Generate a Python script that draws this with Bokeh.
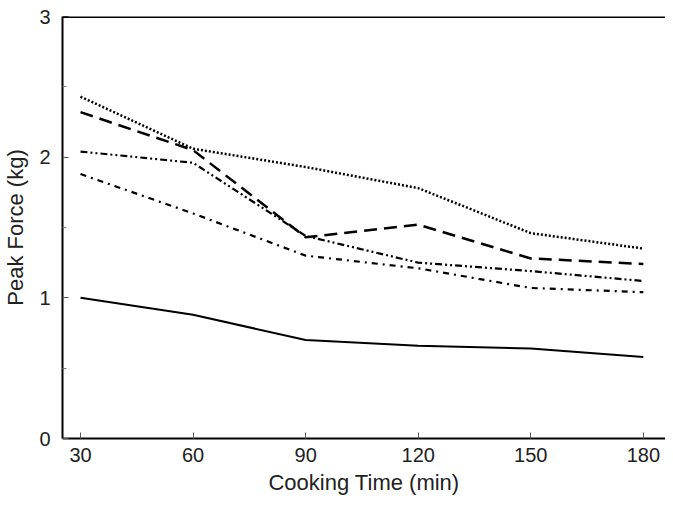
from bokeh.plotting import figure
from bokeh.embed import file_html
from bokeh.resources import INLINE
from bokeh.models import FixedTicker, Range1d, Span

times = [30, 60, 90, 120, 150, 180]
solid = [1.00, 0.88, 0.70, 0.66, 0.64, 0.58]
dotted = [2.43, 2.06, 1.93, 1.78, 1.46, 1.35]
dashed = [2.32, 2.05, 1.43, 1.52, 1.28, 1.24]
dashdotdot = [2.04, 1.96, 1.44, 1.25, 1.19, 1.12]
dashdot = [1.88, 1.60, 1.30, 1.21, 1.07, 1.04]

x_ticks = [30, 60, 90, 120, 150, 180]
y_ticks = [0, 1, 2, 3]

p = figure(width=665, height=498, output_backend="svg", toolbar_location=None,
           x_range=Range1d(25.2, 185.9), y_range=Range1d(0, 3),
           min_border_left=62, min_border_top=16, min_border_bottom=60, min_border_right=0)

p.line(times, solid, line_color="black", line_width=2)
p.line(times, dotted, line_color="black", line_width=2.5, line_dash="2 2")
p.line(times, dashed, line_color="black", line_width=2.5, line_dash="13 7")
p.line(times, dashdotdot, line_color="black", line_width=2.2, line_dash="7 3 2 3 2 3")
p.line(times, dashdot, line_color="black", line_width=2.2, line_dash="6 5 2 5")

p.grid.visible = False
p.background_fill_color = "white"
p.border_fill_color = "white"
p.outline_line_color = None

p.add_layout(Span(location=3, dimension="width", line_color="black", line_width=3))

p.xaxis.ticker = FixedTicker(ticks=x_ticks)
p.yaxis.ticker = FixedTicker(ticks=y_ticks, minor_ticks=[0.5, 1.5, 2.5])

for ax in (p.xaxis[0], p.yaxis[0]):
    ax.axis_line_width = 2
    ax.axis_line_color = "black"
    ax.major_tick_in = 6
    ax.major_tick_out = 0
    ax.minor_tick_in = 4
    ax.minor_tick_out = 0
    ax.major_tick_line_color = "#555555"
    ax.minor_tick_line_color = "#777777"
    ax.major_label_text_font = "Liberation Sans"
    ax.major_label_text_font_size = "20px"
    ax.major_label_text_color = "#222222"
    ax.axis_label_text_font = "Liberation Sans"
    ax.axis_label_text_font_size = "22px"
    ax.axis_label_text_font_style = "normal"
    ax.axis_label_text_color = "#222222"

p.xaxis[0].axis_label = "Cooking Time (min)"
p.yaxis[0].axis_label = "Peak Force (kg)"
p.xaxis[0].major_label_standoff = 9
p.yaxis[0].major_label_standoff = 12
p.xaxis[0].axis_label_standoff = 5
p.yaxis[0].axis_label_standoff = 8

open("out.html", "w").write(file_html(p, INLINE))
